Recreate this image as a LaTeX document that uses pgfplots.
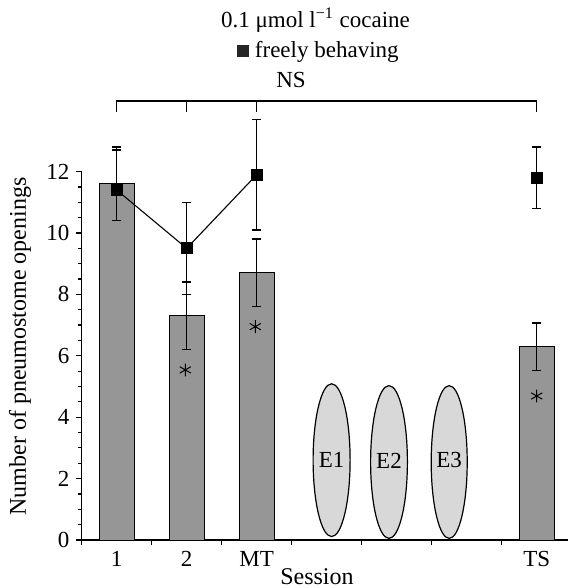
\documentclass[border=0pt]{standalone}
\usepackage{pgfplots}
\pgfplotsset{compat=1.18}
\usepackage{fontspec}
\setmainfont{Liberation Serif}
\definecolor{bargray}{RGB}{150,150,150}
\definecolor{ellgray}{RGB}{216,216,216}
\begin{document}
\begin{tikzpicture}[font=\fontsize{11.5}{13.8}\selectfont]
\begin{axis}[
  x=35pt, y=15.35pt,
  xmin=0, xmax=6.95, ymin=0, ymax=12,
  axis x line=bottom, axis y line=left,
  axis line style={-, line width=0.6pt},
  clip=false,
  tick align=outside,
  major tick length=2.6pt, minor tick length=1.6pt,
  tick style={black, line width=0.6pt},
  ytick={0,2,...,12}, minor y tick num=3,
  xtick={0,1,2,3,4,5,6}, xticklabels={},
  extra x ticks={0.5,1.5,2.5,6.5},
  extra x tick labels={1,2,MT,TS},
  extra x tick style={major tick length=0pt, tick label style={yshift=-2.2pt}},
  /pgf/number format/assume math mode=true,
  ticklabel style={font=\fontsize{11.5}{13.8}\selectfont},
  ylabel={Number of pneumostome openings},
  ylabel style={at={(axis description cs:-0.1268,0.525)}, anchor=center, font=\fontsize{12}{14}\selectfont},
  xlabel={Session},
  xlabel style={at={(axis description cs:0.4835,0)}, anchor=center, yshift=-18.5pt, font=\fontsize{12}{14}\selectfont},
]
\coordinate (O) at (axis cs:0,0);
% bars
\addplot[ybar, bar width=17.5pt, fill=bargray, draw=black, line width=0.5pt,
  error bars/.cd, y dir=both, y explicit,
  error bar style={line width=0.7pt, black},
  error mark options={rotate=90, mark size=2.25pt, line width=0.7pt, black}]
  coordinates {
  (0.5,11.6) +- (0,1.2)
  (1.5,7.3) +- (0,1.1)
  (2.5,8.7) +- (0,1.1)
  (6.5,6.3) +- (0,0.77)
  };
% freely behaving squares
\addplot[black, line width=0.55pt, mark=square*, mark size=2.75pt,
  error bars/.cd, y dir=both, y explicit,
  error bar style={line width=0.7pt, black},
  error mark options={rotate=90, mark size=2.25pt, line width=0.7pt, black}]
  coordinates {
  (0.5,11.4) += (0,1.3) -= (0,1.0)
  (1.5,9.5) += (0,1.5) -= (0,1.5)
  (2.5,11.9) += (0,1.8) -= (0,1.8)
  };
\addplot[black, only marks, line width=0.55pt, mark=square*, mark size=2.75pt,
  error bars/.cd, y dir=both, y explicit,
  error bar style={line width=0.7pt, black},
  error mark options={rotate=90, mark size=2.25pt, line width=0.7pt, black}]
  coordinates {
  (6.5,11.8) +- (0,1.0)
  };
% significance asterisks
\addplot[black, only marks, mark=asterisk, mark size=3.2pt, line width=0.5pt]
  coordinates {(1.48,5.54) (2.48,6.95) (6.5,4.69)};
% ellipses
\draw[fill=ellgray, line width=0.6pt] (axis cs:3.57,2.6) ellipse [x radius=9.25pt, y radius=38.2pt];
\draw[fill=ellgray, line width=0.6pt] (axis cs:4.39,2.54) ellipse [x radius=9.2pt, y radius=38.2pt];
\draw[fill=ellgray, line width=0.6pt] (axis cs:5.25,2.54) ellipse [x radius=9pt, y radius=38.2pt];
\node at (axis cs:3.57,2.62) {E1};
\node at (axis cs:4.39,2.58) {E2};
\node at (axis cs:5.25,2.62) {E3};
% NS bracket
\draw[line width=0.6pt] (axis cs:0.5,13.94) -- (axis cs:0.5,14.3) -- (axis cs:6.5,14.3) -- (axis cs:6.5,13.94);
\draw[line width=0.6pt] (axis cs:1.5,14.3) -- (axis cs:1.5,13.94);
\draw[line width=0.6pt] (axis cs:2.5,14.3) -- (axis cs:2.5,13.94);
\node at (axis cs:2.99,14.98) {NS};
% title / legend
\node at (axis cs:3.34,16.94) {0.1 μmol l\textsuperscript{−1} cocaine};
\node at (axis cs:3.37,15.9) {\textcolor{black!85}{\rule{0.55em}{0.55em}} freely behaving};
\end{axis}
\pgfresetboundingbox
\path (O) ++(-40.85pt,-24pt) rectangle ++(284.5pt,294pt);
\end{tikzpicture}
\end{document}
